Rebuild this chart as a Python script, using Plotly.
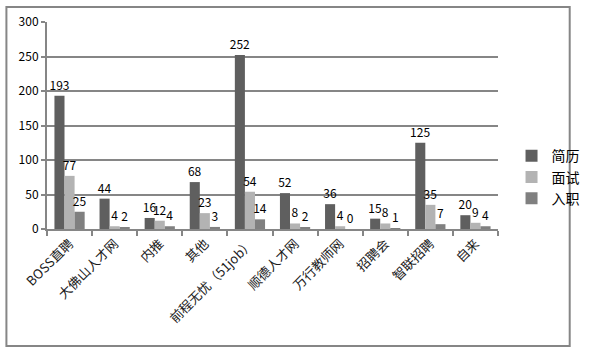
import plotly.graph_objects as go

categories = ["BOSS直聘", "大佛山人才网", "内推", "其他", "前程无忧（51job）", "顺德人才网", "万行教师网", "招聘会", "智联招聘", "自来"]
resume = [193, 44, 16, 68, 252, 52, 36, 15, 125, 20]
interview = [77, 4, 12, 23, 54, 8, 4, 8, 35, 9]
hired = [25, 2, 4, 3, 14, 2, 0, 1, 7, 4]
series_names = ["简历", "面试", "入职"]
colors = ["#5f5f5f", "#b3b3b3", "#808080"]

FONT = "Noto Sans CJK SC, Microsoft YaHei, sans-serif"

fig = go.Figure()
for name, vals, c in zip(series_names, [resume, interview, hired], colors):
    fig.add_trace(go.Bar(
        x=categories, y=vals, name=name, marker=dict(color=c, line=dict(width=0)),
        text=[str(v) for v in vals], textposition="outside", constraintext="none",
        textfont=dict(size=12, color="#000000", family=FONT),
        cliponaxis=False,
    ))

fig.update_layout(
    width=597, height=354,
    margin=dict(l=47, r=85, t=22, b=125),
    paper_bgcolor="white", plot_bgcolor="white",
    barmode="group", bargap=0.33, bargroupgap=0,
    font=dict(family=FONT, size=12, color="#000000"),
    legend=dict(x=1.03, y=0.25, xanchor="left", yanchor="middle",
                font=dict(size=14), itemwidth=30, tracegroupgap=0,
                bgcolor="rgba(0,0,0,0)"),
)
fig.update_xaxes(
    type="category", tickangle=-45, showline=True, linecolor="#868686", linewidth=2,
    ticks="outside", tickson="boundaries", ticklen=5, tickcolor="#868686", tickwidth=2,
    showgrid=False, tickfont=dict(size=13, color="#1a1a1a"),
)
fig.update_yaxes(
    range=[0, 300], dtick=50, showline=True, linecolor="#868686", linewidth=2,
    showgrid=True, gridcolor="#868686", gridwidth=2, zeroline=False,
    ticks="outside", ticklen=4, tickcolor="#868686", tickwidth=2,
    tickfont=dict(size=12, color="#000000"),
)
fig.add_shape(type="rect", xref="paper", yref="paper",
              x0=-0.09, x1=1.159, y0=-0.565, y1=1.072,
              line=dict(color="#868686", width=2), fillcolor="rgba(0,0,0,0)", layer="below")

fig.write_html("out.html")
